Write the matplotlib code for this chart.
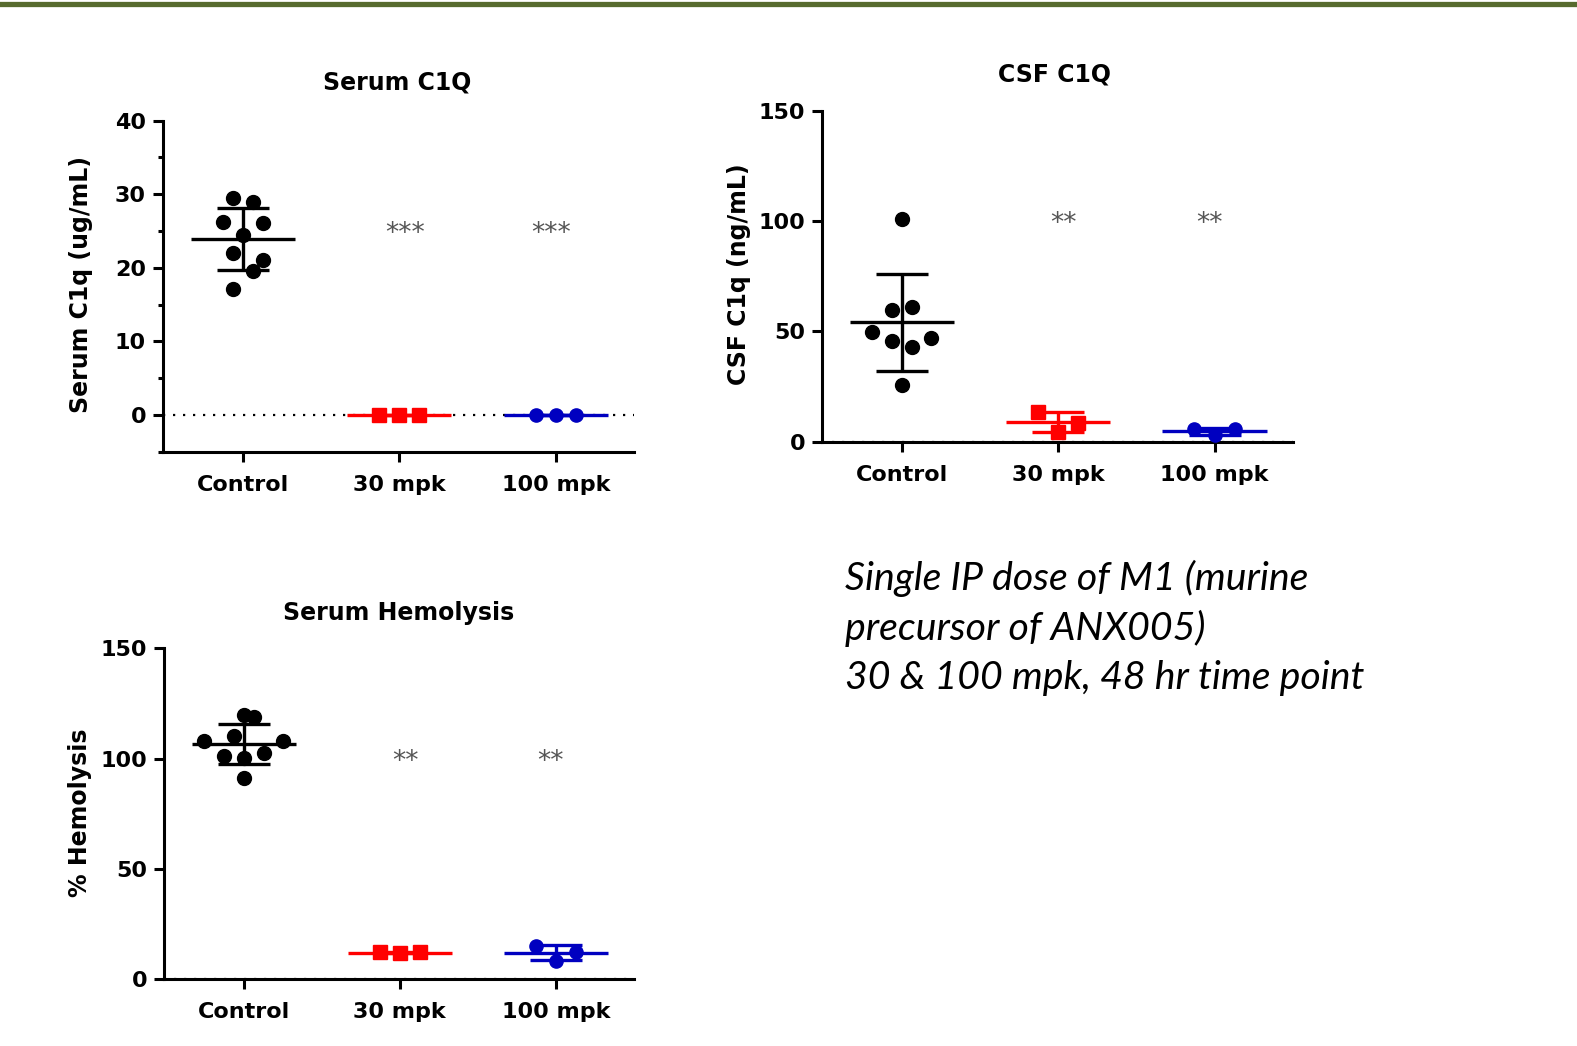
import numpy as np
import matplotlib
matplotlib.use("Agg")
import matplotlib.pyplot as plt
from matplotlib.lines import Line2D

# ---------------- data ----------------
categories = ["Control", "30 mpk", "100 mpk"]

serum_c1q_control = [29.5, 28.9, 26.2, 26.1, 24.4, 22.0, 21.1, 19.6, 17.1]
serum_c1q_30mpk = [0.03, 0.01, 0.02]
serum_c1q_100mpk = [0.02, 0.03, 0.01]

csf_c1q_control = [100.8, 59.9, 60.9, 49.9, 45.8, 46.8, 42.7, 25.6]
csf_c1q_30mpk = [13.6, 8.4, 4.5]
csf_c1q_100mpk = [5.6, 5.9, 3.0]

hemolysis_control = [119.8, 118.9, 108.1, 110.4, 108.1, 101.0, 100.1, 102.5, 91.1]
hemolysis_30mpk = [12.5, 11.7, 12.2]
hemolysis_100mpk = [15.2, 12.2, 8.4]

serum_c1q_ticks = [0, 10, 20, 30, 40]
csf_ticks = [0, 50, 100, 150]
hemolysis_ticks = [0, 50, 100, 150]

serum_c1q_stars = ["***", "***"]
csf_stars = ["**", "**"]
hemolysis_stars = ["**", "**"]

# ---------------- styles / layout ----------------
# horizontal scatter offsets (layout of points within a column)
p1_offsets = [[-0.064, 0.064, -0.128, 0.128, 0, -0.064, 0.128, 0.064, -0.064],
              [-0.128, 0, 0.128], [-0.128, 0, 0.128]]
p2_offsets = [[0, -0.064, 0.064, -0.19, -0.064, 0.19, 0.064, 0],
              [-0.128, 0.128, 0], [-0.128, 0.128, 0]]
p3_offsets = [[0, 0.064, -0.255, -0.064, 0.255, -0.128, 0, 0.128, 0],
              [-0.128, 0, 0.128], [-0.128, 0.128, 0]]

colors = ["black", "#ff0000", "#0000c0"]
markers = ["o", "s", "o"]
msizes = [10, 10, 9.5]
star_color = "#555555"
star_x = [1.037, 1.968]

W, H = 1577, 1046
fig = plt.figure(figsize=(W / 100, H / 100), dpi=100)
fig.patch.set_facecolor("white")

# top green rule
fig.add_artist(Line2D([0, 1], [1 - 3.5 / H, 1 - 3.5 / H], color="#576b2e",
                      lw=3.8, transform=fig.transFigure))

BOLD = dict(family="DejaVu Sans", weight="bold")


def make_panel(rect, groups, offsets, ylim, yticks, minor, title, title_xy,
               ylabel, ylabel_xy, stars, star_y):
    ax = fig.add_axes(rect)
    for sp in ["top", "right"]:
        ax.spines[sp].set_visible(False)
    for sp in ["left", "bottom"]:
        ax.spines[sp].set_linewidth(2.2)
    ax.set_xlim(-0.51, 2.5)
    ax.set_ylim(*ylim)
    ax.spines["left"].set_bounds(ylim[0], yticks[-1])

    # dotted zero line
    ax.axhline(0, color="black", lw=1.6, ls=(0, (1, 3.5)), zorder=1,
               clip_on=False)

    for i, (vals, offs) in enumerate(zip(groups, offsets)):
        vals = np.asarray(vals, dtype=float)
        xs = i + np.asarray(offs)
        ax.plot(xs, vals, ls="none", marker=markers[i], ms=msizes[i],
                color=colors[i], mec=colors[i], zorder=3, clip_on=False)
        m = vals.mean()
        sd = vals.std(ddof=1)
        ax.hlines(m, i - 0.333, i + 0.333, color=colors[i], lw=2.4, zorder=4)
        ax.errorbar([i], [m], yerr=[sd], fmt="none", ecolor=colors[i],
                    elinewidth=2.4, capsize=18.7, capthick=2.4, zorder=4)

    for sx, s in zip(star_x, stars):
        ax.annotate(s, (sx, star_y), xytext=(0, -8.2), textcoords="offset points",
                    ha="center", va="baseline", fontsize=19, color=star_color,
                    family="DejaVu Sans")

    ax.set_xticks(range(len(categories)))
    ax.set_xticklabels(categories, fontsize=16, **BOLD)
    ax.set_yticks(yticks)
    ax.set_yticklabels([str(t) for t in yticks], fontsize=16, **BOLD)
    if minor is not None:
        ax.set_yticks(minor, minor=True)
        ax.tick_params(axis="y", which="minor", length=3.6, width=2.2)
    ax.tick_params(axis="both", which="major", length=7.2, width=2.2,
                   direction="out")
    ax.tick_params(axis="y", which="major", pad=5)
    ax.tick_params(axis="x", which="major", pad=9.5)

    ax.text(title_xy[0], title_xy[1], title, transform=ax.transAxes,
            ha="center", va="center", fontsize=17, **BOLD)
    ax.set_ylabel(ylabel, fontsize=17, ha="center", va="center",
                  rotation_mode="default", **BOLD)
    ax.yaxis.set_label_coords(*ylabel_xy)
    return ax


make_panel([163 / W, 1 - 451.7 / H, 471 / W, 331 / H],
           [serum_c1q_control, serum_c1q_30mpk, serum_c1q_100mpk], p1_offsets,
           (-5, 40), serum_c1q_ticks, [-5, 5, 15, 25, 35],
           "Serum C1Q", (0.497, 1.116),
           "Serum C1q (ug/mL)", (-0.175, 0.505), serum_c1q_stars, 25.2)

make_panel([822 / W, 1 - 441.7 / H, 470.7 / W, 331 / H],
           [csf_c1q_control, csf_c1q_30mpk, csf_c1q_100mpk], p2_offsets,
           (0, 150), csf_ticks, None,
           "CSF C1Q", (0.493, 1.109),
           "CSF C1q (ng/mL)", (-0.176, 0.505), csf_stars, 100.5)

make_panel([164 / W, 1 - 979.3 / H, 470 / W, 331 / H],
           [hemolysis_control, hemolysis_30mpk, hemolysis_100mpk], p3_offsets,
           (0, 150), hemolysis_ticks, None,
           "Serum Hemolysis", (0.4985, 1.106),
           "% Hemolysis", (-0.178, 0.504), hemolysis_stars, 100.4)

fig.text(845 / W, 1 - 688.5 / H,
         "Single IP dose of M1 (murine\nprecursor of ANX005)\n30 & 100 mpk, 48 hr time point",
         ha="left", va="baseline", fontsize=28.3, family="Lato", style="italic",
         linespacing=1.42, color="black")

fig.savefig("out.png", dpi=100, facecolor="white")
